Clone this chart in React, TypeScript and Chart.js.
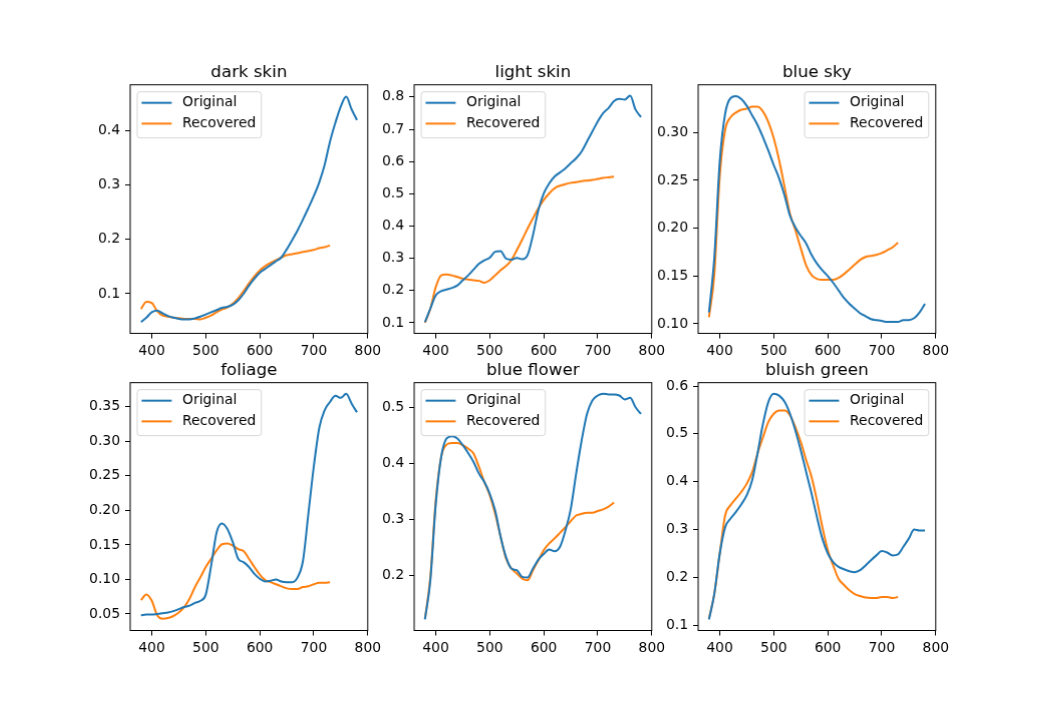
import { useEffect, useRef } from "react"
import { Chart, registerables } from "chart.js"

Chart.register(...registerables)

Chart.defaults.font.family = "'DejaVu Sans', sans-serif"
Chart.defaults.color = "#000"

// wavelengths (nm)
const wlOriginal = [
  380, 390, 400, 410, 420, 430, 440, 450, 460, 470, 480, 490, 500, 510, 520, 530, 540, 550, 560, 570,
  580, 590, 600, 610, 620, 630, 640, 650, 660, 670, 680, 690, 700, 710, 720, 730, 740, 750, 760, 770, 780,
]
const wlRecovered = [
  380, 390, 400, 410, 420, 430, 440, 450, 460, 470, 480, 490, 500, 510, 520, 530, 540, 550, 560, 570,
  580, 590, 600, 610, 620, 630, 640, 650, 660, 670, 680, 690, 700, 710, 720, 730,
]

const titles = ["dark skin", "light skin", "blue sky", "foliage", "blue flower", "bluish green"]
const seriesNames = ["Original", "Recovered"]
const xTicks = [400, 500, 600, 700, 800]

const darkSkinOriginal = [
  0.048, 0.056, 0.066, 0.069, 0.064, 0.059, 0.056, 0.054, 0.053, 0.053, 0.055, 0.058, 0.062, 0.066, 0.07, 0.074,
  0.076, 0.08, 0.088, 0.1, 0.115, 0.128, 0.139, 0.146, 0.153, 0.16, 0.167, 0.182, 0.199, 0.217, 0.237, 0.258,
  0.28, 0.305, 0.337, 0.38, 0.415, 0.445, 0.463, 0.44, 0.42,
]
const darkSkinRecovered = [
  0.072, 0.085, 0.083, 0.068, 0.06, 0.058, 0.056, 0.055, 0.054, 0.054, 0.054, 0.053, 0.056, 0.06, 0.066, 0.071,
  0.075, 0.082, 0.092, 0.105, 0.119, 0.132, 0.143, 0.151, 0.157, 0.162, 0.167, 0.171, 0.173, 0.175, 0.177, 0.179,
  0.181, 0.184, 0.186, 0.189,
]
const lightSkinOriginal = [
  0.102, 0.144, 0.185, 0.198, 0.203, 0.208, 0.216, 0.232, 0.247, 0.265, 0.283, 0.294, 0.302, 0.32, 0.322, 0.299,
  0.296, 0.301, 0.297, 0.31, 0.372, 0.45, 0.501, 0.532, 0.553, 0.566, 0.579, 0.595, 0.61, 0.631, 0.662, 0.693,
  0.724, 0.75, 0.766, 0.787, 0.794, 0.792, 0.804, 0.761, 0.738,
]
const lightSkinRecovered = [
  0.1, 0.144, 0.211, 0.247, 0.25, 0.247, 0.242, 0.237, 0.234, 0.232, 0.23, 0.224, 0.232, 0.247, 0.263, 0.276,
  0.294, 0.325, 0.358, 0.392, 0.424, 0.455, 0.481, 0.501, 0.517, 0.525, 0.53, 0.534, 0.536, 0.539, 0.541, 0.543,
  0.546, 0.549, 0.551, 0.553,
]
const blueSkyOriginal = [
  0.112, 0.17, 0.27, 0.32, 0.336, 0.338, 0.335, 0.328, 0.318, 0.308, 0.295, 0.281, 0.266, 0.252, 0.234, 0.213,
  0.201, 0.192, 0.184, 0.172, 0.163, 0.156, 0.15, 0.143, 0.135, 0.127, 0.121, 0.116, 0.111, 0.108, 0.105, 0.104,
  0.103, 0.102, 0.102, 0.102, 0.104, 0.104, 0.106, 0.112, 0.121,
]
const blueSkyRecovered = [
  0.107, 0.152, 0.255, 0.303, 0.316, 0.321, 0.324, 0.325, 0.327, 0.327, 0.322, 0.311, 0.294, 0.271, 0.243, 0.215,
  0.198, 0.179, 0.161, 0.151, 0.147, 0.146, 0.146, 0.146, 0.148, 0.152, 0.157, 0.162, 0.167, 0.17, 0.171, 0.172,
  0.174, 0.177, 0.18, 0.185,
]
const foliageOriginal = [
  0.048, 0.049, 0.049, 0.05, 0.051, 0.052, 0.054, 0.057, 0.06, 0.062, 0.066, 0.069, 0.078, 0.12, 0.168, 0.181,
  0.173, 0.154, 0.13, 0.125, 0.118, 0.108, 0.101, 0.097, 0.098, 0.1, 0.097, 0.096, 0.096, 0.103, 0.127, 0.195,
  0.263, 0.319, 0.345, 0.357, 0.366, 0.363, 0.369, 0.355, 0.342,
]
const foliageRecovered = [
  0.07, 0.078, 0.069, 0.048, 0.043, 0.044, 0.047, 0.052, 0.06, 0.072, 0.089, 0.103, 0.118, 0.13, 0.142, 0.151,
  0.152, 0.149, 0.144, 0.141, 0.13, 0.118, 0.107, 0.099, 0.096, 0.093, 0.09, 0.087, 0.086, 0.086, 0.089, 0.09,
  0.093, 0.095, 0.095, 0.096,
]
const blueFlowerOriginal = [
  0.121, 0.191, 0.328, 0.412, 0.445, 0.449, 0.445, 0.433, 0.419, 0.403, 0.382, 0.367, 0.346, 0.316, 0.269, 0.233,
  0.212, 0.209, 0.197, 0.196, 0.212, 0.228, 0.238, 0.246, 0.243, 0.251, 0.28, 0.319, 0.382, 0.441, 0.489, 0.513,
  0.522, 0.525, 0.524, 0.524, 0.522, 0.515, 0.518, 0.501, 0.489,
]
const blueFlowerRecovered = [
  0.122, 0.197, 0.334, 0.412, 0.434, 0.437, 0.437, 0.433, 0.427, 0.418, 0.394, 0.367, 0.343, 0.31, 0.269, 0.23,
  0.212, 0.203, 0.194, 0.191, 0.209, 0.227, 0.245, 0.257, 0.266, 0.276, 0.286, 0.297, 0.307, 0.31, 0.312, 0.312,
  0.315, 0.318, 0.323, 0.33,
]
const bluishGreenOriginal = [
  0.112, 0.166, 0.25, 0.305, 0.323, 0.337, 0.353, 0.372, 0.403, 0.459, 0.521, 0.567, 0.584, 0.58, 0.567, 0.542,
  0.507, 0.466, 0.42, 0.375, 0.326, 0.281, 0.25, 0.232, 0.222, 0.217, 0.213, 0.211, 0.215, 0.225, 0.236, 0.246,
  0.255, 0.252, 0.246, 0.248, 0.264, 0.281, 0.3, 0.298, 0.298,
]
const bluishGreenRecovered = [
  0.114, 0.166, 0.25, 0.33, 0.351, 0.365, 0.379, 0.396, 0.42, 0.459, 0.493, 0.525, 0.542, 0.549, 0.549, 0.539,
  0.514, 0.483, 0.445, 0.41, 0.361, 0.305, 0.257, 0.225, 0.197, 0.184, 0.173, 0.165, 0.161, 0.158, 0.157, 0.157,
  0.159, 0.159, 0.157, 0.159,
]

const darkSkinTicks = [0.1, 0.2, 0.3, 0.4]
const darkSkinTickLabels = ["0.1", "0.2", "0.3", "0.4"]
const lightSkinTicks = [0.1, 0.2, 0.3, 0.4, 0.5, 0.6, 0.7, 0.8]
const lightSkinTickLabels = ["0.1", "0.2", "0.3", "0.4", "0.5", "0.6", "0.7", "0.8"]
const blueSkyTicks = [0.1, 0.15, 0.2, 0.25, 0.3]
const blueSkyTickLabels = ["0.10", "0.15", "0.20", "0.25", "0.30"]
const foliageTicks = [0.05, 0.1, 0.15, 0.2, 0.25, 0.3, 0.35]
const foliageTickLabels = ["0.05", "0.10", "0.15", "0.20", "0.25", "0.30", "0.35"]
const blueFlowerTicks = [0.2, 0.3, 0.4, 0.5]
const blueFlowerTickLabels = ["0.2", "0.3", "0.4", "0.5"]
const bluishGreenTicks = [0.1, 0.2, 0.3, 0.4, 0.5, 0.6]
const bluishGreenTickLabels = ["0.1", "0.2", "0.3", "0.4", "0.5", "0.6"]

// subplot geometry (matplotlib default 2x3 grid in a 1039x708 figure)
const AX_W = 236.8
const AX_H = 247.8
const COL_LEFT = [129.9, 414.1, 698.3]
const ROW_TOP = [85, 382.4]
const Y_W = 60
const RIGHT_PAD = 30
const TITLE_SIZE = 16.67
const TITLE_PAD = 4
const TITLE_H = TITLE_SIZE + TITLE_PAD
const X_H = 40
const FONT = 13.9

interface PanelCfg {
  title: string
  original: number[]
  recovered: number[]
  ticks: number[]
  tickLabels: string[]
  yMin: number
  yMax: number
  legendRight: boolean
}

const panels: PanelCfg[] = [
  { title: titles[0], original: darkSkinOriginal, recovered: darkSkinRecovered, ticks: darkSkinTicks, tickLabels: darkSkinTickLabels, yMin: 0.027, yMax: 0.485, legendRight: false },
  { title: titles[1], original: lightSkinOriginal, recovered: lightSkinRecovered, ticks: lightSkinTicks, tickLabels: lightSkinTickLabels, yMin: 0.067, yMax: 0.838, legendRight: false },
  { title: titles[2], original: blueSkyOriginal, recovered: blueSkyRecovered, ticks: blueSkyTicks, tickLabels: blueSkyTickLabels, yMin: 0.09, yMax: 0.35, legendRight: true },
  { title: titles[3], original: foliageOriginal, recovered: foliageRecovered, ticks: foliageTicks, tickLabels: foliageTickLabels, yMin: 0.026, yMax: 0.385, legendRight: false },
  { title: titles[4], original: blueFlowerOriginal, recovered: blueFlowerRecovered, ticks: blueFlowerTicks, tickLabels: blueFlowerTickLabels, yMin: 0.101, yMax: 0.545, legendRight: false },
  { title: titles[5], original: bluishGreenOriginal, recovered: bluishGreenRecovered, ticks: bluishGreenTicks, tickLabels: bluishGreenTickLabels, yMin: 0.089, yMax: 0.607, legendRight: true },
]

// draws the four spines and a matplotlib-like legend inside the axes
const axesBox = {
  id: "axesBox",
  afterDatasetsDraw(chart: any, _args: any, opts: any) {
    const { ctx, chartArea: a } = chart
    ctx.save()
    ctx.font = `${FONT}px 'DejaVu Sans', sans-serif`
    const items = chart.data.datasets.map((d: any) => ({ label: d.label, color: d.borderColor }))
    const textW = Math.max(...items.map((it: any) => ctx.measureText(it.label).width))
    const w = 45 + textW + 5.5
    const h = 46
    const x = opts.right ? a.right - 7 - w : a.left + 7
    const y = a.top + 7
    ctx.beginPath()
    ctx.roundRect(x, y, w, h, 3)
    ctx.fillStyle = "rgba(255,255,255,0.8)"
    ctx.fill()
    ctx.strokeStyle = "rgba(204,204,204,0.8)"
    ctx.lineWidth = 1
    ctx.stroke()
    items.forEach((it: any, i: number) => {
      const cy = y + 11 + i * 20.7
      ctx.beginPath()
      ctx.moveTo(x + 4.4, cy)
      ctx.lineTo(x + 34.4, cy)
      ctx.strokeStyle = it.color
      ctx.lineWidth = 2
      ctx.stroke()
      ctx.fillStyle = "#000"
      ctx.textBaseline = "middle"
      ctx.textAlign = "left"
      ctx.fillText(it.label, x + 45, cy)
    })
    ctx.strokeStyle = "#000"
    ctx.lineWidth = 1
    ctx.strokeRect(a.left, a.top, a.right - a.left, a.bottom - a.top)
    ctx.restore()
  },
}

function Panel({ cfg, left, top }: { cfg: PanelCfg; left: number; top: number }) {
  const canvasRef = useRef<HTMLCanvasElement>(null)

  useEffect(() => {
    if (!canvasRef.current) return
    const chart = new Chart(canvasRef.current, {
      type: "line",
      data: {
        datasets: [
          {
            label: seriesNames[0],
            data: wlOriginal.map((w, i) => ({ x: w, y: cfg.original[i] })),
            borderColor: "#1f77b4",
            borderWidth: 2,
            pointRadius: 0,
            cubicInterpolationMode: "monotone",
          },
          {
            label: seriesNames[1],
            data: wlRecovered.map((w, i) => ({ x: w, y: cfg.recovered[i] })),
            borderColor: "#ff7f0e",
            borderWidth: 2,
            pointRadius: 0,
            cubicInterpolationMode: "monotone",
          },
        ],
      },
      plugins: [axesBox],
      options: {
        animation: false,
        responsive: true,
        maintainAspectRatio: false,
        layout: { padding: { top: 0, left: 0, bottom: 0, right: RIGHT_PAD } },
        scales: {
          x: {
            type: "linear",
            min: 360,
            max: 800,
            afterBuildTicks: (axis: any) => {
              axis.ticks = xTicks.map((v) => ({ value: v }))
            },
            afterFit: (axis: any) => {
              axis.height = X_H
            },
            ticks: {
              autoSkip: false,
              maxRotation: 0,
              padding: 5,
              color: "#000",
              font: { size: FONT },
              callback: (v: any) => String(v),
            },
            grid: { drawOnChartArea: false, drawTicks: true, tickLength: 5, tickColor: "#000", tickWidth: 1 },
            border: { display: false },
          },
          y: {
            type: "linear",
            min: cfg.yMin,
            max: cfg.yMax,
            afterBuildTicks: (axis: any) => {
              axis.ticks = cfg.ticks.map((v) => ({ value: v }))
            },
            afterFit: (axis: any) => {
              axis.width = Y_W
            },
            ticks: {
              autoSkip: false,
              padding: 5,
              color: "#000",
              font: { size: FONT },
              callback: (_v: any, i: number) => cfg.tickLabels[i],
            },
            grid: { drawOnChartArea: false, drawTicks: true, tickLength: 5, tickColor: "#000", tickWidth: 1 },
            border: { display: false },
          },
        },
        plugins: {
          legend: { display: false },
          tooltip: { enabled: false },
          title: {
            display: true,
            fullSize: false,
            text: cfg.title,
            color: "#000",
            font: { size: TITLE_SIZE, weight: "normal", lineHeight: 1 },
            padding: { top: 0, bottom: TITLE_PAD },
          },
          axesBox: { right: cfg.legendRight },
        } as any,
      },
    })
    return () => chart.destroy()
  }, [cfg])

  return (
    <div
      style={{
        position: "absolute",
        left: left - Y_W,
        top: top - TITLE_H,
        width: Y_W + AX_W + RIGHT_PAD,
        height: TITLE_H + AX_H + X_H,
      }}
    >
      <canvas ref={canvasRef} />
    </div>
  )
}

export default function App() {
  return (
    <div style={{ position: "absolute", left: 0, top: 0, width: 1039, height: 708, background: "#fff" }}>
      {panels.map((p, i) => (
        <Panel key={p.title} cfg={p} left={COL_LEFT[i % 3]} top={ROW_TOP[Math.floor(i / 3)]} />
      ))}
    </div>
  )
}
